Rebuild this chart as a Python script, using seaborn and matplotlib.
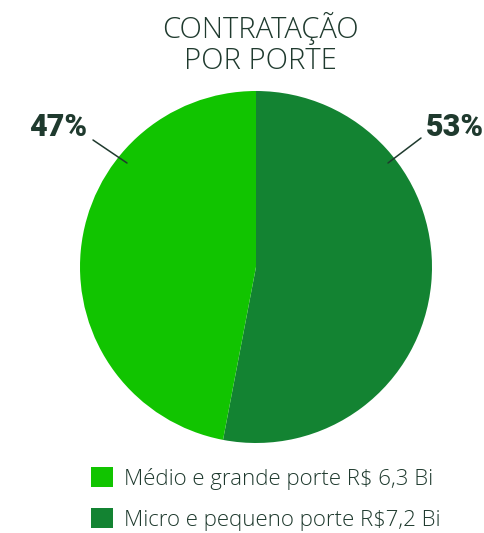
import matplotlib
matplotlib.use("Agg")
import matplotlib.pyplot as plt
import seaborn as sns
from matplotlib.patches import Patch

# Data
categories = ["Micro e pequeno porte", "Médio e grande porte"]
values = [53, 47]
amounts = ["R$7,2 Bi", "R$ 6,3 Bi"]
pct_labels = ["53%", "47%"]
title = "CONTRATAÇÃO\nPOR PORTE"

colors = ["#138332", "#11c400"]
text_color = "#1f3a2e"

sns.set_theme(style="white")
plt.rcParams["font.family"] = ["Open Sans", "DejaVu Sans"]

W, H = 484, 533
fig = plt.figure(figsize=(W / 100, H / 100), dpi=100)
fig.patch.set_facecolor("white")

cx, cy, r = 256, 267, 176
ax = fig.add_axes([(cx - r) / W, (H - cy - r) / H, 2 * r / W, 2 * r / H])
ax.pie(values, colors=colors, startangle=90, counterclock=False,
       radius=1, wedgeprops=dict(linewidth=0))
ax.set_xlim(-1, 1)
ax.set_ylim(-1, 1)
ax.set_aspect("equal")
ax.axis("off")

# Title
fig.text(260 / W, 1 - 12 / H, title, ha="center", va="top", fontsize=21,
         color=text_color, linespacing=1.08, fontweight="light")

def px(x, y):
    return ((x - cx) / r, (cy - y) / r)

# Percentage labels with leader lines
label_pos = [(455, 127), (58, 127)]
line_pos = [((421, 138), (388, 163)), ((93, 140), (127, 163))]
for lab, (lx, ly), (p0, p1) in zip(pct_labels, label_pos, line_pos):
    x, y = px(lx, ly)
    ax.text(x, y, lab, ha="center", va="center", fontsize=22,
            fontweight="heavy", color=text_color, family=["Roboto", "DejaVu Sans"],
            fontstretch="condensed", clip_on=False)
    (x0, y0), (x1, y1) = px(*p0), px(*p1)
    ax.plot([x0, x1], [y0, y1], color=text_color, lw=1.1, clip_on=False)

# Legend (light green first)
handles = [Patch(facecolor=colors[i], edgecolor="none",
                 label=f"{categories[i]} {amounts[i]}") for i in [1, 0]]
leg = fig.legend(handles=handles, loc="upper left",
                 bbox_to_anchor=(91 / W, 1 - 467 / H), frameon=False,
                 fontsize=16, handlelength=1.0, handleheight=1.0,
                 handletextpad=0.5, labelspacing=0.85, borderpad=0,
                 borderaxespad=0)
for t in leg.get_texts():
    t.set_color(text_color)
    t.set_fontweight("light")

fig.savefig("out.png", dpi=100)
